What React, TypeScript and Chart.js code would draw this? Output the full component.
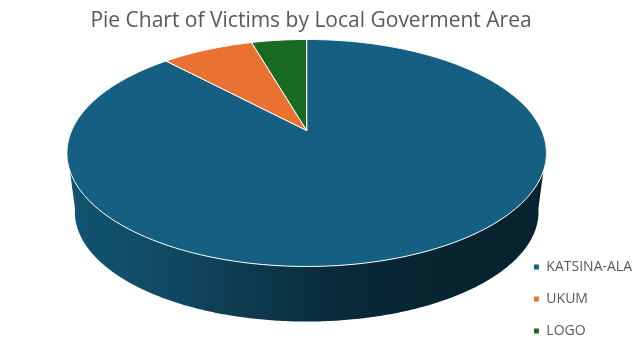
import React, { useEffect, useRef } from "react";
import { Chart, registerables } from "chart.js";

Chart.register(...registerables);

// ---- data ----
const categories = ["KATSINA-ALA", "UKUM", "LOGO"];
const victims = [176, 15, 9];
const sliceColors = ["#156082", "#E97132", "#196B24"];
const chartTitle = "Pie Chart of Victims by Local Goverment Area";

// ---- 3D view style (relative to the arc element computed by Chart.js) ----
const VIEW = {
  radius: 235, // horizontal half-size of the disc
  shiftX: 49,
  shiftY: -64.6,
  tilt: 0.464, // vertical squash of the disc
  persp: 0.198, // perspective strength
  depth: 59.6, // thickness of the disc
  bottomScale: 0.967,
};
const WALL_SHADES: [number, number][] = [
  [0, 0.88],
  [0.2, 0.77],
  [0.38, 0.6],
  [0.55, 0.45],
  [0.7, 0.39],
  [1, 0.36],
];

function hexToRgb(hex: string) {
  const h = hex.replace("#", "");
  return [parseInt(h.slice(0, 2), 16), parseInt(h.slice(2, 4), 16), parseInt(h.slice(4, 6), 16)];
}
function shade(hex: string, f: number) {
  const [r, g, b] = hexToRgb(hex);
  return `rgb(${Math.round(r * f)},${Math.round(g * f)},${Math.round(b * f)})`;
}

const pie3dPlugin = {
  id: "pie3d",
  beforeDatasetsDraw(chart: any) {
    const meta = chart.getDatasetMeta(0);
    const arcs = meta.data as any[];
    if (!arcs.length) return false;
    const ctx: CanvasRenderingContext2D = chart.ctx;
    const a = arcs[0].outerRadius;
    const cx = arcs[0].x + VIEW.shiftX;
    const y0 = arcs[0].y + VIEW.shiftY;
    const b = a * VIEW.tilt;
    const p = VIEW.persp;
    const a2 = a * VIEW.bottomScale;
    const b2 = b * VIEW.bottomScale;
    const y2 = y0 + VIEW.depth;

    const top = (t: number) => {
      const X = Math.cos(t);
      const Z = -Math.sin(t);
      const w = 1 + p * Z;
      return [cx + (a * X) / w, y0 - (b * Z) / w];
    };
    const bottom = (t: number) => {
      const X = Math.cos(t);
      const Z = -Math.sin(t);
      const w = 1 + p * Z;
      return [cx + (a2 * X) / w, y2 - (b2 * Z) / w];
    };

    ctx.save();
    // side walls (front half only)
    const alpha = Math.asin(p) - 0.03;
    arcs.forEach((arc: any) => {
      const s = arc.startAngle;
      const e = arc.endAngle;
      const color = arc.options.backgroundColor as string;
      for (let k = -1; k <= 1; k++) {
        const lo = Math.max(s, alpha + 2 * Math.PI * k);
        const hi = Math.min(e, Math.PI - alpha + 2 * Math.PI * k);
        if (hi <= lo) continue;
        const n = Math.max(8, Math.ceil((hi - lo) / 0.01));
        ctx.beginPath();
        for (let i = 0; i <= n; i++) {
          const t = lo + ((hi - lo) * i) / n;
          const [x, y] = top(t);
          if (i === 0) ctx.moveTo(x, y);
          else ctx.lineTo(x, y);
        }
        for (let i = n; i >= 0; i--) {
          const t = lo + ((hi - lo) * i) / n;
          const [x, y] = bottom(t);
          ctx.lineTo(x, y);
        }
        ctx.closePath();
        const g = ctx.createLinearGradient(cx - a * 1.02, 0, cx + a * 1.02, 0);
        WALL_SHADES.forEach(([pos, f]) => g.addColorStop(pos, shade(color, f)));
        ctx.fillStyle = g;
        ctx.fill();
      }
    });

    // top faces
    arcs.forEach((arc: any) => {
      const s = arc.startAngle;
      const e = arc.endAngle;
      const n = Math.max(8, Math.ceil((e - s) / 0.01));
      ctx.beginPath();
      ctx.moveTo(cx, y0);
      for (let i = 0; i <= n; i++) {
        const t = s + ((e - s) * i) / n;
        const [x, y] = top(t);
        ctx.lineTo(x, y);
      }
      ctx.closePath();
      ctx.fillStyle = arc.options.backgroundColor;
      ctx.fill();
      ctx.lineWidth = arc.options.borderWidth;
      ctx.strokeStyle = arc.options.borderColor;
      ctx.lineJoin = "round";
      ctx.stroke();
    });
    ctx.restore();
    return false;
  },
};

export default function App() {
  const canvasRef = useRef<HTMLCanvasElement | null>(null);

  useEffect(() => {
    document.body.style.margin = "0";
    const canvas = canvasRef.current;
    if (!canvas) return;
    const chart = new Chart(canvas, {
      type: "pie",
      data: {
        labels: categories,
        datasets: [
          {
            data: victims,
            backgroundColor: sliceColors,
            borderColor: "#ffffff",
            borderWidth: 1,
            radius: VIEW.radius,
          } as any,
        ],
      },
      options: {
        responsive: false,
        animation: false,
        events: [],
        layout: { padding: { top: 0, left: -20, right: -5, bottom: -9 } },
        plugins: {
          title: {
            display: true,
            text: chartTitle,
            color: "#595959",
            font: { family: "'Open Sans'", size: 21, weight: "normal" },
            padding: { top: 8, bottom: 10 },
          },
          legend: {
            display: true,
            position: "right",
            align: "end",
            labels: {
              boxWidth: 6,
              boxHeight: 6,
              padding: 18,
              color: "#595959",
              font: { family: "'Open Sans'", size: 14 },
            },
          },
          tooltip: { enabled: false },
        },
      },
      plugins: [pie3dPlugin],
    });
    return () => chart.destroy();
  }, []);

  return (
    <div style={{ width: 637, height: 347, background: "#ffffff" }}>
      <canvas ref={canvasRef} width={637} height={347} style={{ display: "block" }} />
    </div>
  );
}
